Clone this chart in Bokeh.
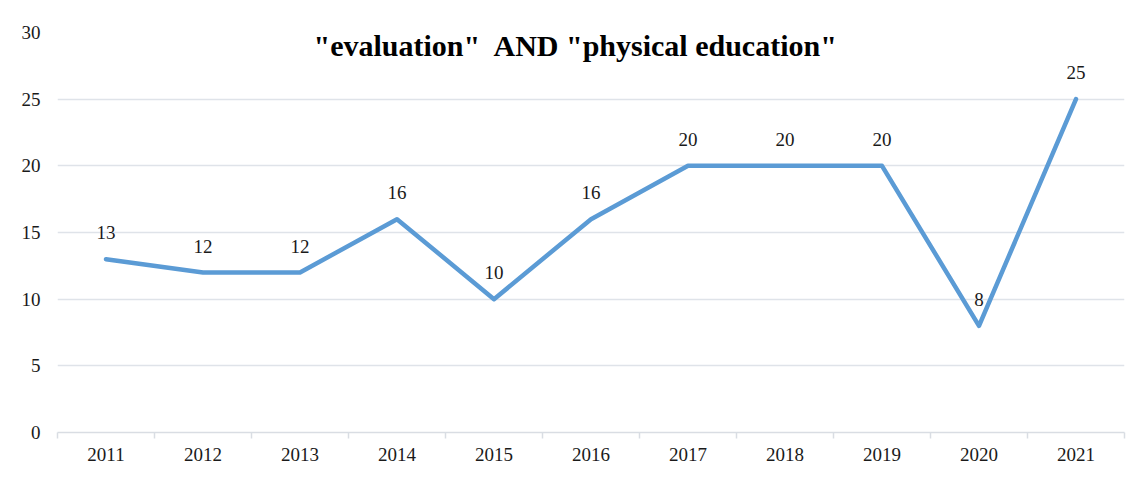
import numpy as np
from bokeh.plotting import figure
from bokeh.models import Range1d, FixedTicker, Label, ColumnDataSource, LabelSet
from bokeh.embed import file_html
from bokeh.resources import INLINE

years = ["2011", "2012", "2013", "2014", "2015", "2016", "2017", "2018", "2019", "2020", "2021"]
counts = [13, 12, 12, 16, 10, 16, 20, 20, 20, 8, 25]
title_text = '"evaluation"\u00a0 AND "physical education"'

n = len(years)
xpos = np.arange(n) + 0.5
src = ColumnDataSource(dict(x=xpos, y=counts, lab=[str(c) for c in counts]))

W, H = 1136, 472
p = figure(width=W, height=H, output_backend="svg", toolbar_location=None,
           x_range=Range1d(0, n), y_range=Range1d(0, 30),
           min_border_left=57, min_border_right=W - 1124,
           min_border_top=32, min_border_bottom=H - 432)
p.outline_line_color = None
p.background_fill_color = "white"
p.border_fill_color = "white"

p.line("x", "y", source=src, line_color="#5B9BD5", line_width=4.5,
       line_join="round", line_cap="round")

labels = LabelSet(x="x", y="y", text="lab", source=src, y_offset=20,
                  text_align="center", text_baseline="bottom",
                  text_font="Liberation Serif", text_font_size="19px",
                  text_color="#1a1a1a")
p.add_layout(labels)

p.add_layout(Label(x=n / 2, y=29.0, x_offset=-15, text=title_text, text_align="center",
                   text_baseline="middle", text_font="Liberation Serif",
                   text_font_style="bold", text_font_size="30px",
                   text_color="#000000"))

# x axis
p.xaxis.ticker = FixedTicker(ticks=list(xpos), minor_ticks=list(range(n + 1)))
p.xaxis.major_label_overrides = {float(x): y for x, y in zip(xpos, years)}
p.xaxis.major_tick_line_color = None
p.xaxis.minor_tick_out = 6
p.xaxis.minor_tick_in = 0
p.xaxis.minor_tick_line_color = "#d9dde3"
p.xaxis.minor_tick_line_width = 1.5
p.xaxis.axis_line_color = "#d9dde3"
p.xaxis.axis_line_width = 1.5
p.xaxis.major_label_text_font = "Liberation Serif"
p.xaxis.major_label_text_font_size = "19px"
p.xaxis.major_label_text_color = "#1a1a1a"
p.xaxis.major_label_standoff = 9

# y axis
p.yaxis.ticker = FixedTicker(ticks=[0, 5, 10, 15, 20, 25, 30])
p.yaxis.axis_line_color = None
p.yaxis.major_tick_line_color = None
p.yaxis.minor_tick_line_color = None
p.yaxis.major_label_text_font = "Liberation Serif"
p.yaxis.major_label_text_font_size = "19px"
p.yaxis.major_label_text_color = "#1a1a1a"
p.yaxis.major_label_standoff = 11

p.xgrid.grid_line_color = None
p.ygrid.ticker = FixedTicker(ticks=[5, 10, 15, 20, 25, 30])
p.ygrid.grid_line_color = "#dfe3e9"
p.ygrid.grid_line_width = 1.5

open("out.html", "w").write(file_html(p, INLINE))
